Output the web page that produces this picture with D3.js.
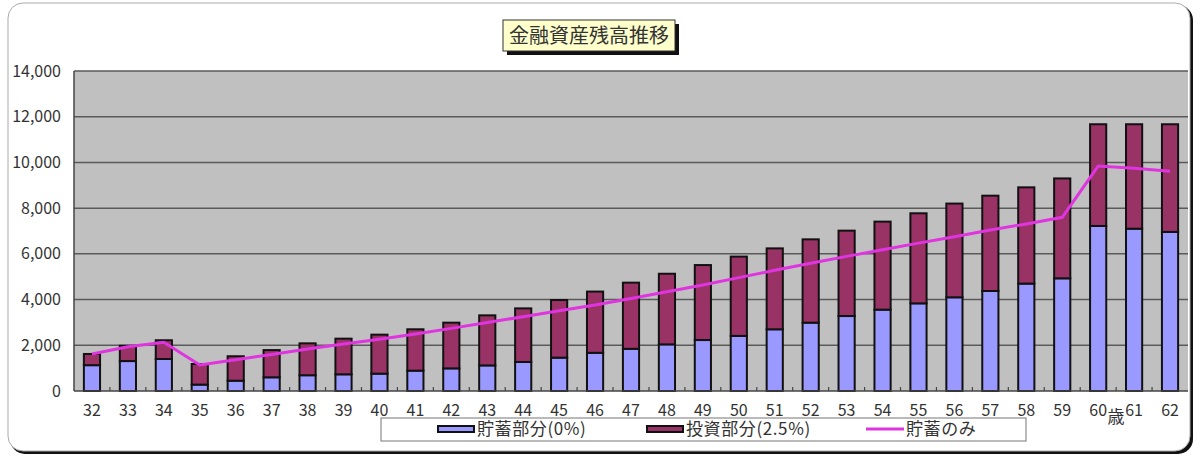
<!DOCTYPE html>
<html>
<head>
<meta charset="utf-8">
<script src="https://cdn.jsdelivr.net/npm/d3@7"></script>
<style>
  body { margin: 0; background: #fff; }
  text { font-family: "Noto Sans CJK JP", "Noto Sans", sans-serif; fill: #333; }
</style>
</head>
<body>
<script>
// ages (x axis)
var ages = ["32","33","34","35","36","37","38","39","40","41","42","43","44","45","46","47","48","49","50","51","52","53","54","55","56","57","58","59","60","61","62"];
// 貯蓄部分(0%)
var savings = [1130,1310,1400,280,450,600,690,730,760,890,990,1120,1270,1460,1670,1845,2040,2230,2410,2700,2990,3280,3560,3835,4100,4375,4700,4930,7220,7100,6960];
// 投資部分(2.5%)
var invest = [490,670,820,900,1070,1190,1395,1560,1705,1810,2000,2190,2345,2520,2680,2895,3090,3280,3470,3540,3645,3735,3850,3940,4100,4170,4210,4370,4450,4570,4710];
// 貯蓄のみ
var savingsOnly = [1620,1940,2130,1140,1370,1600,1840,2060,2260,2490,2740,3000,3250,3510,3760,4050,4340,4640,4960,5280,5590,5890,6180,6470,6750,7040,7310,7600,9840,9740,9610];
var yTicks = [0,2000,4000,6000,8000,10000,12000,14000];
var title = "金融資産残高推移";
var legendNames = ["貯蓄部分(0%)","投資部分(2.5%)","貯蓄のみ"];

var colBlue = "#9999ff", colRed = "#993366", colLine = "#e034e0";

var svg = d3.select("body").append("svg")
    .attr("width", 1200)
    .attr("height", 474);

// chart frame with shadow
svg.append("rect").attr("x", 10).attr("y", 5).attr("width", 1183).attr("height", 449)
    .attr("rx", 15).attr("fill", "#111");
svg.append("rect").attr("x", 8).attr("y", 3).attr("width", 1182).attr("height", 448)
    .attr("rx", 15).attr("fill", "#fff").attr("stroke", "#aaa").attr("stroke-width", 1);

var pLeft = 74, pRight = 1188, pTop = 71, pBottom = 391;

var x = d3.scaleBand().domain(ages).range([pLeft, pRight]).paddingInner(0.55).paddingOuter(0.275);
var y = d3.scaleLinear().domain([0, 14000]).range([pBottom, pTop]);

// plot area
svg.append("rect").attr("x", pLeft).attr("y", pTop).attr("width", pRight - pLeft).attr("height", pBottom - pTop)
    .attr("fill", "#c0c0c0");

svg.append("g").selectAll("line").data(yTicks.slice(1)).join("line")
    .attr("x1", pLeft).attr("x2", pRight)
    .attr("y1", function(d){ return y(d); }).attr("y2", function(d){ return y(d); })
    .attr("stroke", "#5a5a5a").attr("stroke-width", 1.5);

svg.append("line").attr("x1", pLeft).attr("x2", pLeft).attr("y1", pTop).attr("y2", pBottom)
    .attr("stroke", "#444").attr("stroke-width", 1.5);

// y axis labels
svg.append("g").selectAll("text").data(yTicks).join("text")
    .attr("x", 61).attr("y", function(d){ return y(d); })
    .attr("dy", "0.35em").attr("text-anchor", "end")
    .attr("font-size", 16)
    .text(function(d){ return d3.format(",")(d); });

// stacked bars
var rows = ages.map(function(a, i){ return {age: a, s: savings[i], v: invest[i]}; });
var stack = d3.stack().keys(["s", "v"])(rows);
var colors = [colBlue, colRed];

svg.append("g").selectAll("g").data(stack).join("g")
    .attr("fill", function(d, i){ return colors[i]; })
  .selectAll("rect").data(function(d){ return d; }).join("rect")
    .attr("x", function(d){ return x(d.data.age); })
    .attr("width", x.bandwidth())
    .attr("y", function(d){ return y(d[1]); })
    .attr("height", function(d){ return y(d[0]) - y(d[1]); })
    .attr("stroke", "#111").attr("stroke-width", 2);

// x axis line and tick marks
svg.append("line").attr("x1", pLeft).attr("x2", pRight).attr("y1", pBottom).attr("y2", pBottom)
    .attr("stroke", "#444").attr("stroke-width", 1.5);
var step = x.step();
svg.append("g").selectAll("line").data(ages.slice(1)).join("line")
    .attr("x1", function(d){ return x(d) - (step - x.bandwidth()) / 2; })
    .attr("x2", function(d){ return x(d) - (step - x.bandwidth()) / 2; })
    .attr("y1", pBottom).attr("y2", pBottom - 4)
    .attr("stroke", "#444").attr("stroke-width", 1.2);

// line series
var line = d3.line()
    .x(function(d, i){ return x(ages[i]) + x.bandwidth() / 2; })
    .y(function(d){ return y(d); });
svg.append("path").datum(savingsOnly)
    .attr("d", line).attr("fill", "none")
    .attr("stroke", colLine).attr("stroke-width", 3);

// x labels
svg.append("g").selectAll("text").data(ages).join("text")
    .attr("x", function(d){ return x(d) + x.bandwidth() / 2; })
    .attr("y", 416).attr("text-anchor", "middle")
    .attr("font-size", 16)
    .text(function(d){ return d; });

svg.append("text").attr("x", 1116).attr("y", 423).attr("text-anchor", "middle")
    .attr("font-size", 17).text("歳");

// legend
svg.append("rect").attr("x", 381).attr("y", 418).attr("width", 645).attr("height", 23)
    .attr("fill", "#fff").attr("stroke", "#777").attr("stroke-width", 1);
var lg = [438, 647, 866];
svg.append("rect").attr("x", lg[0]).attr("y", 426).attr("width", 36).attr("height", 6)
    .attr("fill", colBlue).attr("stroke", "#111").attr("stroke-width", 2);
svg.append("rect").attr("x", lg[1]).attr("y", 426).attr("width", 36).attr("height", 6)
    .attr("fill", colRed).attr("stroke", "#111").attr("stroke-width", 2);
svg.append("line").attr("x1", lg[2]).attr("x2", lg[2] + 38).attr("y1", 429).attr("y2", 429)
    .attr("stroke", colLine).attr("stroke-width", 3);
svg.append("g").selectAll("text").data(legendNames).join("text")
    .attr("x", function(d, i){ return lg[i] + (i == 2 ? 40 : 39); })
    .attr("y", 435).attr("font-size", 17).attr("letter-spacing", 0.6)
    .text(function(d){ return d; });

// title box
svg.append("rect").attr("x", 507).attr("y", 24).attr("width", 172).attr("height", 31).attr("fill", "#111");
svg.append("rect").attr("x", 503).attr("y", 20).attr("width", 172).attr("height", 31)
    .attr("fill", "#ffffcc").attr("stroke", "#333").attr("stroke-width", 1);
svg.append("text").attr("x", 589).attr("y", 43).attr("text-anchor", "middle")
    .attr("font-size", 20).text(title);
</script>
</body>
</html>
